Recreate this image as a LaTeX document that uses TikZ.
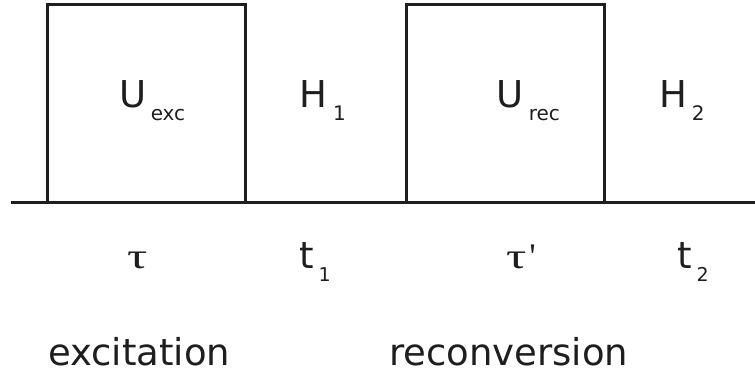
\documentclass[tikz,border=0pt]{standalone}
\usepackage{fontspec}
\setmainfont{DejaVu Sans}
\newfontfamily\greekfont{Liberation Serif}
\definecolor{ink}{HTML}{1E1E1E}
\tikzset{
  pulse/.style={draw=ink, line width=3pt, minimum width=198pt, minimum height=198pt, inner sep=0pt},
  axis/.style={draw=ink, line width=3pt},
  lbl/.style={text=ink, inner sep=0pt, anchor=base west, text depth=0pt, font=\fontsize{37}{40}\selectfont},
  glbl/.style={text=ink, inner sep=0pt, anchor=base west, text depth=0pt, font=\fontsize{36}{40}\greekfont},
}
\newcommand{\subtxt}[2]{\kern#1pt\raisebox{-13pt}{\fontsize{20}{22}\selectfont #2}}
\begin{document}
\begin{tikzpicture}[x=1pt,y=-1pt]
\useasboundingbox (0,0) rectangle (755,372);
\coordinate (start) at (11,202);
\coordinate (end) at (755,202);
\node[pulse] (exc) at (146,103) {};
\node[pulse] (rec) at (505.5,103) {};
\draw[axis] (start) -- (end);
\node[lbl] (uexc) at (119.5,107) {U\subtxt{4}{exc}};
\node[lbl] (h1) at (299,107) {H\subtxt{6}{1}};
\node[lbl] (urec) at (496.5,107) {U\subtxt{5}{rec}};
\node[lbl] (h2) at (659.4,107) {H\subtxt{4.5}{2}};
\node[glbl] (tau) at (127,268) {\scalebox{1.4}[1]{τ}};
\node[lbl] (t1) at (299,268) {t\kern5pt\raisebox{-13pt}{\fontsize{19}{22}\selectfont 1}};
\node[glbl] (taup) at (506,268) {\scalebox{1.4}[1]{τ}\kern3pt'};
\node[lbl] (t2) at (677,268) {t\kern5pt\raisebox{-13pt}{\fontsize{19}{22}\selectfont 2}};
\node[lbl] (excitation) at (48,365) {excitation};
\node[lbl] (reconversion) at (389,365) {reconversion};
\end{tikzpicture}
\end{document}
